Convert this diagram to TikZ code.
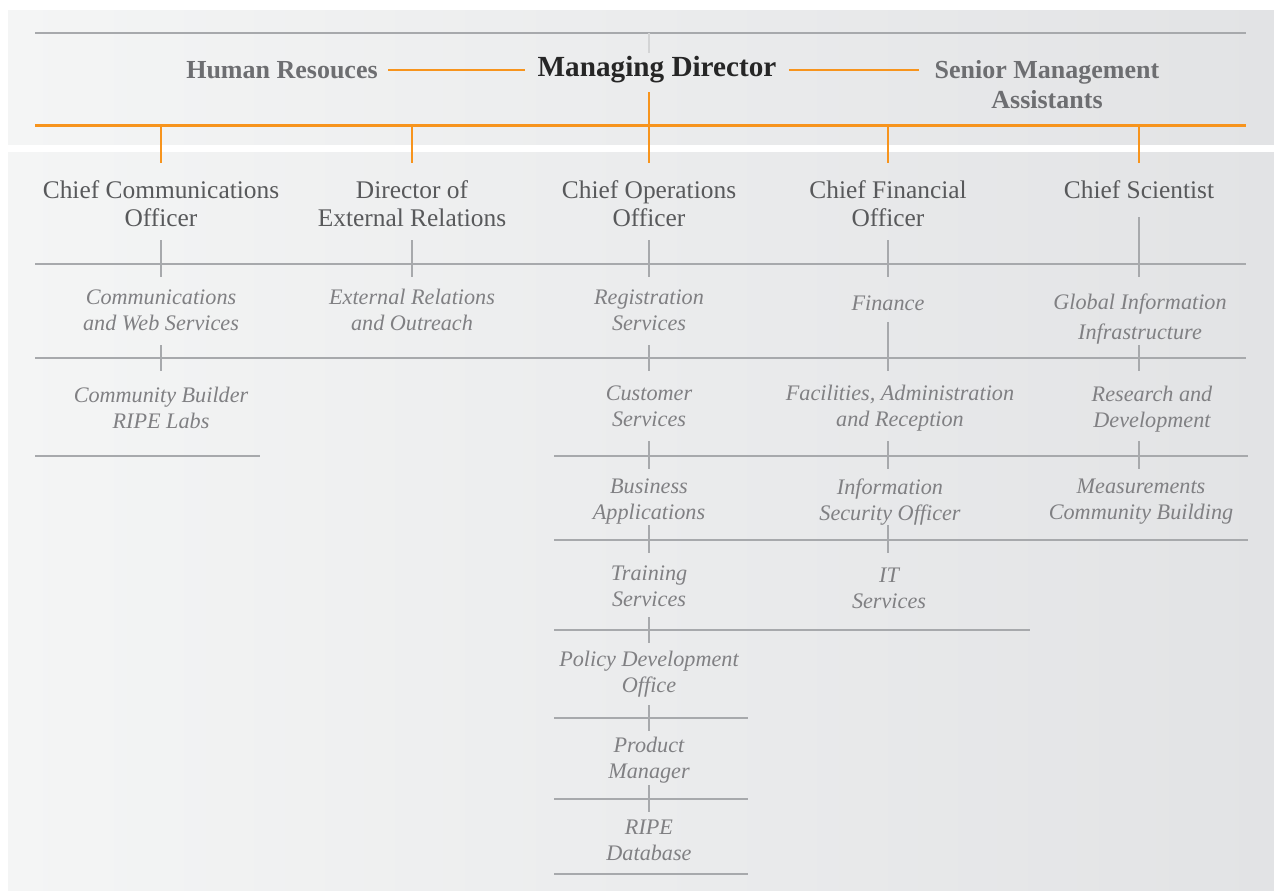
\documentclass[tikz,border=0pt]{standalone}
\usepackage{fontspec}
\setmainfont{Liberation Serif}
\usetikzlibrary{calc}

\definecolor{riorange}{HTML}{F7941D}
\definecolor{riline}{HTML}{A7A9AC}
\definecolor{ritext}{HTML}{58595B}
\definecolor{riunit}{HTML}{808083}
\definecolor{rihead}{HTML}{6D6E71}
\definecolor{ripaleft}{HTML}{F4F5F5}
\definecolor{riparight}{HTML}{E2E3E5}

\tikzset{
  chief/.style={align=center, text=ritext, inner sep=0pt,
    font=\fontsize{12.7}{14}\selectfont},
  unit/.style={align=center, text=riunit, inner sep=0pt,
    font=\fontsize{11.1}{13}\selectfont\itshape},
  board/.style={align=center, text=rihead, inner ysep=0pt,
    font=\fontsize{13}{15}\selectfont\bfseries},
  bar/.style={draw=riline, line width=1pt},
  tick/.style={draw=riline, line width=0.7pt},
  obar/.style={draw=riorange, line width=1.5pt},
  olink/.style={draw=riorange, line width=1.2pt}
}

\begin{document}
\begin{tikzpicture}[x=0.5pt,y=-0.5pt]
  \useasboundingbox (0,0) rectangle (1274,890);
  % panels
  \shade[left color=ripaleft, right color=riparight] (8,10) rectangle (1274,144);
  \shade[left color=ripaleft, right color=riparight] (8,152) rectangle (1274,890);

  % board
  \draw[bar] (35,33) -- (1246,33);
  \draw[tick, draw=riline!50] (649,33) -- (649,53);
  \node[font=\fontsize{14.6}{16}\selectfont\bfseries, text=black!85,
    inner ysep=0pt, inner xsep=6pt] (md) at (657,70) {Managing Director};
  \node[board, inner xsep=5pt] (hr) at (282,70) {Human Resouces};
  \node[board, inner xsep=7.5pt] (sma) at (1047,85) {Senior Management\\Assistants};
  \draw[olink] (hr.east) -- (hr.east -| md.west);
  \draw[olink] (md.east) -- (md.east -| sma.west);

  \coordinate (ow) at (35,125);
  \coordinate (oe) at (1246,125);
  \coordinate (hub) at (649,125);
  \draw[obar] (ow) -- (oe);
  \draw[olink] ($(hub)+(0,-33)$) -- ($(hub)+(0,38)$);

  % chiefs
  \node[chief] (cco) at (161,204) {Chief Communications\\Officer};
  \node[chief] (der) at (412,204) {Director of\\External Relations};
  \node[chief] (coo) at (649,204) {Chief Operations\\Officer};
  \node[chief] (cfo) at (888,204) {Chief Financial\\Officer};
  \node[chief] (csc) at (1139,190) {Chief Scientist};

  \foreach \n in {cco,der,cfo,csc}
    \draw[olink] (\n |- ow) -- ($(\n |- ow)+(0,38)$);

  % rows
  \foreach \b/\xa/\xb/\y in {r1/35/1246/264, r2/35/1246/358, r3a/35/260/456,
      r3/554/1248/456, r4/554/1248/540, r5/554/1030/630, r6/554/748/718,
      r7/554/748/799, r8/554/748/874} {
    \coordinate (\b-w) at (\xa,\y);
    \coordinate (\b-e) at (\xb,\y);
    \draw[bar] (\b-w) -- (\b-e);
  }

  \foreach \n/\b/\u in {cco/r1/24, der/r1/24, coo/r1/24, cfo/r1/24, csc/r1/47,
      cco/r2/13, coo/r2/13, cfo/r2/36, csc/r2/13,
      coo/r3/15, cfo/r3/15, csc/r3/15,
      coo/r4/15, cfo/r4/15,
      coo/r5/13, coo/r6/13, coo/r7/14}
    \draw[tick] ($(\n |- \b-w)+(0,-\u)$) -- ($(\n |- \b-w)+(0,13)$);

  % units
  \node[unit] (comweb) at (161,310) {Communications\\and Web Services};
  \node[unit] (extrel) at (412,310) {External Relations\\and Outreach};
  \node[unit] (regsrv) at (649,310) {Registration\\Services};
  \node[unit] (finance) at (888,303) {Finance};
  \node[unit, font=\fontsize{11.1}{15}\selectfont\itshape] (gii) at (1140,319)
    {Global Information\\Infrastructure};

  \node[unit] (combld) at (161,408) {Community Builder\\RIPE Labs};
  \node[unit] (custsrv) at (649,406) {Customer\\Services};
  \node[unit] (facil) at (900,408) {Facilities, Administration\\and Reception};
  \node[unit] (resdev) at (1152,409) {Research and\\Development};

  \node[unit] (busapp) at (649,502) {Business\\Applications};
  \node[unit] (infosec) at (890,502) {Information\\Security Officer};
  \node[unit] (measure) at (1141,502) {Measurements\\Community Building};

  \node[unit] (training) at (649,586) {Training\\Services};
  \node[unit] (itsrv) at (889,588) {IT\\Services};

  \node[unit] (policy) at (649,674) {Policy Development\\Office};
  \node[unit] (product) at (649,760) {Product\\Manager};
  \node[unit] (ripedb) at (649,840) {RIPE\\Database};
\end{tikzpicture}
\end{document}
